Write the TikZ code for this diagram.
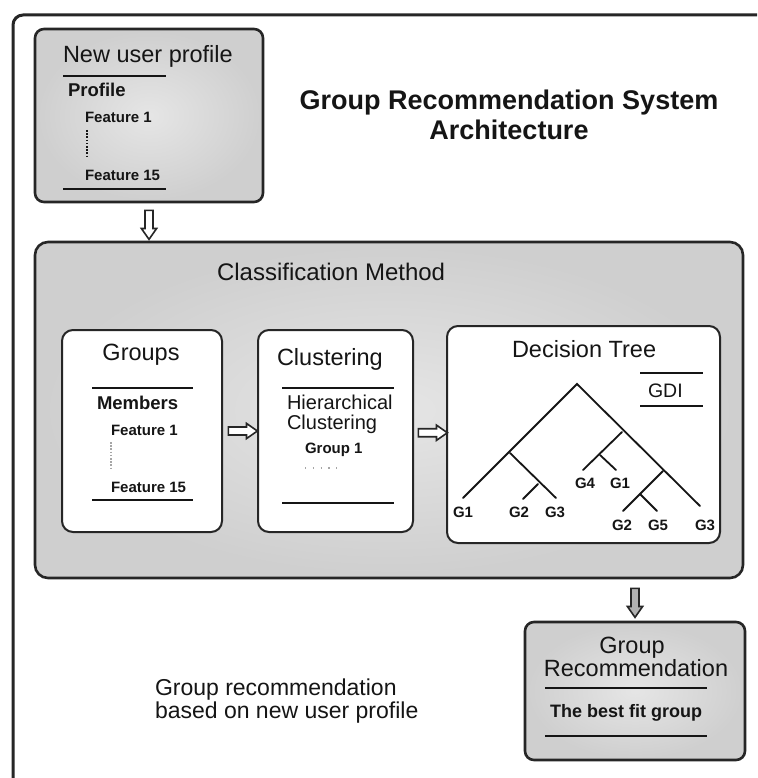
\documentclass[tikz,border=0pt]{standalone}
\usepackage{fontspec}
\setmainfont{Liberation Sans}
\usetikzlibrary{shapes.arrows,calc}
\definecolor{edge}{HTML}{262626}
\definecolor{ink}{HTML}{151515}
\begin{document}
\begin{tikzpicture}[x=1pt,y=-1pt,
  frame/.style={draw=edge,line width=3pt,rounded corners=10pt},
  graybox/.style={draw=edge,line width=2.6pt,rounded corners=9pt,inner color=gray!20,outer color=gray!38,rectangle,inner sep=0,outer sep=0},
  whitebox/.style={draw=edge,line width=2pt,rounded corners=11pt,fill=white,rectangle,inner sep=0,outer sep=0},
  rule/.style={line width=2pt,draw=ink},
  tline/.style={line width=1.8pt,draw=ink,line cap=round},
  txt/.style={inner sep=0,outer sep=0,text=ink},
  big/.style={txt,font=\fontsize{23.5}{26}\selectfont},
  mid/.style={txt,font=\fontsize{20}{20}\selectfont},
  bsub/.style={txt,font=\bfseries\fontsize{18.5}{20}\selectfont},
  bsmall/.style={txt,font=\bfseries\fontsize{15}{17}\selectfont},
  blockarrow/.style={single arrow,draw=edge,line width=1.6pt,fill=white,minimum height=29pt,minimum width=14pt,inner sep=3.2pt,outer sep=0,single arrow head extend=3.6pt,single arrow tip angle=70}
]
\useasboundingbox (0,0) rectangle (757,778);
\clip (0,0) rectangle (757,778);
\fill[white] (0,0) rectangle (757,778);

% outer frame
\coordinate (fbl) at (13,820);
\coordinate (ftr) at (800,15);
\draw[frame] (fbl) |- (ftr);

% title
\node[txt,font=\bfseries\fontsize{27}{30}\selectfont,anchor=base] (title1) at (509,110) {Group Recommendation System};
\node[txt,font=\bfseries\fontsize{27}{30}\selectfont,anchor=base] (title2) at (509,140) {Architecture};

% new user profile
\node[graybox,minimum width=228pt,minimum height=173pt] (profile) at (149,115.5) {};
\node[big,anchor=base west] (nup) at (63,63) {New user profile};
\coordinate (p1a) at (63,76); \coordinate (p1b) at (166,76);
\draw[rule] (p1a) -- (p1b);
\node[bsub,anchor=base west] (prof) at (68,97) {Profile};
\node[bsmall,anchor=base west] (pf1) at (85,123) {Feature 1};
\coordinate (pd1) at (87,130); \coordinate (pd2) at (87,157);
\draw[line width=1.6pt,draw=ink,dash pattern=on 1.6pt off 1.6pt] (pd1) -- (pd2);
\node[bsmall,anchor=base west] (pf15) at (85,180) {Feature 15};
\coordinate (p2a) at (63,189); \coordinate (p2b) at (166,189);
\draw[rule] (p2a) -- (p2b);

% classification method
\node[graybox,rounded corners=13pt,minimum width=708pt,minimum height=336pt] (class) at (389,410) {};
\node[txt,font=\fontsize{24}{26}\selectfont,anchor=base west] (cm) at (217,280) {Classification Method};

% groups
\node[whitebox,minimum width=160pt,minimum height=202pt] (groups) at (142,431) {};
\node[big,anchor=base] (gt) at (141,360) {Groups};
\coordinate (g1a) at (92,388); \coordinate (g1b) at (193,388);
\draw[rule] (g1a) -- (g1b);
\node[bsub,anchor=base west] (mem) at (97,409) {Members};
\node[bsmall,anchor=base west] (gf1) at (111,435) {Feature 1};
\coordinate (gd1) at (111,442); \coordinate (gd2) at (111,468);
\draw[line width=1.6pt,draw=gray!70,dash pattern=on 1.6pt off 1.6pt] (gd1) -- (gd2);
\node[bsmall,anchor=base west] (gf15) at (111,492) {Feature 15};
\coordinate (g2a) at (92,500); \coordinate (g2b) at (193,500);
\draw[rule] (g2a) -- (g2b);

% clustering
\node[whitebox,minimum width=155pt,minimum height=202pt] (clust) at (335.5,431) {};
\node[big,anchor=base west] (ct) at (277,365) {Clustering};
\coordinate (c1a) at (282,388); \coordinate (c1b) at (394,388);
\draw[rule] (c1a) -- (c1b);
\node[mid,anchor=base west] (hier) at (287,409) {Hierarchical};
\node[mid,anchor=base west] (hclu) at (287,429) {Clustering};
\node[bsmall,anchor=base west] (grp1) at (305,453) {Group 1};
\coordinate (cd1) at (305,468); \coordinate (cd2) at (337,468);
\draw[line width=1.3pt,draw=gray!70,dash pattern=on 1.3pt off 6.5pt] (cd1) -- (cd2);
\coordinate (c2a) at (282,503); \coordinate (c2b) at (394,503);
\draw[rule] (c2a) -- (c2b);

% decision tree
\node[whitebox,minimum width=273pt,minimum height=217pt] (dt) at (583.5,434.5) {};
\node[big,anchor=base west] (dtt) at (512,357) {Decision Tree};
\coordinate (d1a) at (640,373); \coordinate (d1b) at (703,373);
\draw[rule] (d1a) -- (d1b);
\node[txt,font=\fontsize{19.5}{20}\selectfont,anchor=base west] (gdi) at (648,397) {GDI};
\coordinate (d2a) at (640,406); \coordinate (d2b) at (703,406);
\draw[rule] (d2a) -- (d2b);

\coordinate (r) at (577,384);
\coordinate (l) at (510,453);
\coordinate (l1) at (463,498);
\coordinate (l2) at (556,498);
\coordinate (ls) at (538,484);
\coordinate (ls1) at (523,499);
\coordinate (m) at (622,432);
\coordinate (m1) at (583,470);
\coordinate (ms) at (600,455);
\coordinate (ms1) at (616,470);
\coordinate (n) at (663,471);
\coordinate (n1) at (623,511);
\coordinate (ns) at (640,494);
\coordinate (ns1) at (657,511);
\coordinate (rr) at (700,506);
\draw[tline] (l1) -- (r) -- (rr);
\draw[tline] (l) -- (l2);
\draw[tline] (ls) -- (ls1);
\draw[tline] (m) -- (m1);
\draw[tline] (ms) -- (ms1);
\draw[tline] (n) -- (n1);
\draw[tline] (ns) -- (ns1);

\node[bsmall] (tg1) at (463,512) {G1};
\node[bsmall] (tg2) at (519,512) {G2};
\node[bsmall] (tg3) at (555,512) {G3};
\node[bsmall] (tg4) at (585,483) {G4};
\node[bsmall] (tg1b) at (620,483) {G1};
\node[bsmall] (tg2b) at (622,525.5) {G2};
\node[bsmall] (tg5) at (658,525.5) {G5};
\node[bsmall] (tg3b) at (705,525.5) {G3};

% group recommendation
\node[graybox,minimum width=220pt,minimum height=138pt] (gr) at (635,691) {};
\node[big,anchor=base] (grt1) at (632,653) {Group};
\node[big,anchor=base] (grt2) at (636,676) {Recommendation};
\coordinate (r1a) at (545,688); \coordinate (r1b) at (707,688);
\draw[rule] (r1a) -- (r1b);
\node[txt,font=\bfseries\fontsize{18}{20}\selectfont,anchor=base] (best) at (626,717) {The best fit group};
\coordinate (r2a) at (545,736); \coordinate (r2b) at (707,736);
\draw[rule] (r2a) -- (r2b);

% bottom note
\node[txt,font=\fontsize{23}{23}\selectfont,anchor=base west] (note1) at (155,695) {Group recommendation};
\node[txt,font=\fontsize{23}{23}\selectfont,anchor=base west] (note2) at (155,718) {based on new user profile};

% block arrows
\node[blockarrow,shape border rotate=270] (a1) at ($(profile.south)!0.5!(profile.south |- class.north)$) {};
\node[blockarrow] (a2) at ($(groups.east)!0.5!(clust.west)$) {};
\node[blockarrow] (a3) at ($(clust.east)!0.5!(dt.west)$) {};
\node[blockarrow,shape border rotate=270,fill=gray!60] (a4) at ($(class.south -| gr.north)!0.5!(gr.north)$) {};
\end{tikzpicture}
\end{document}
